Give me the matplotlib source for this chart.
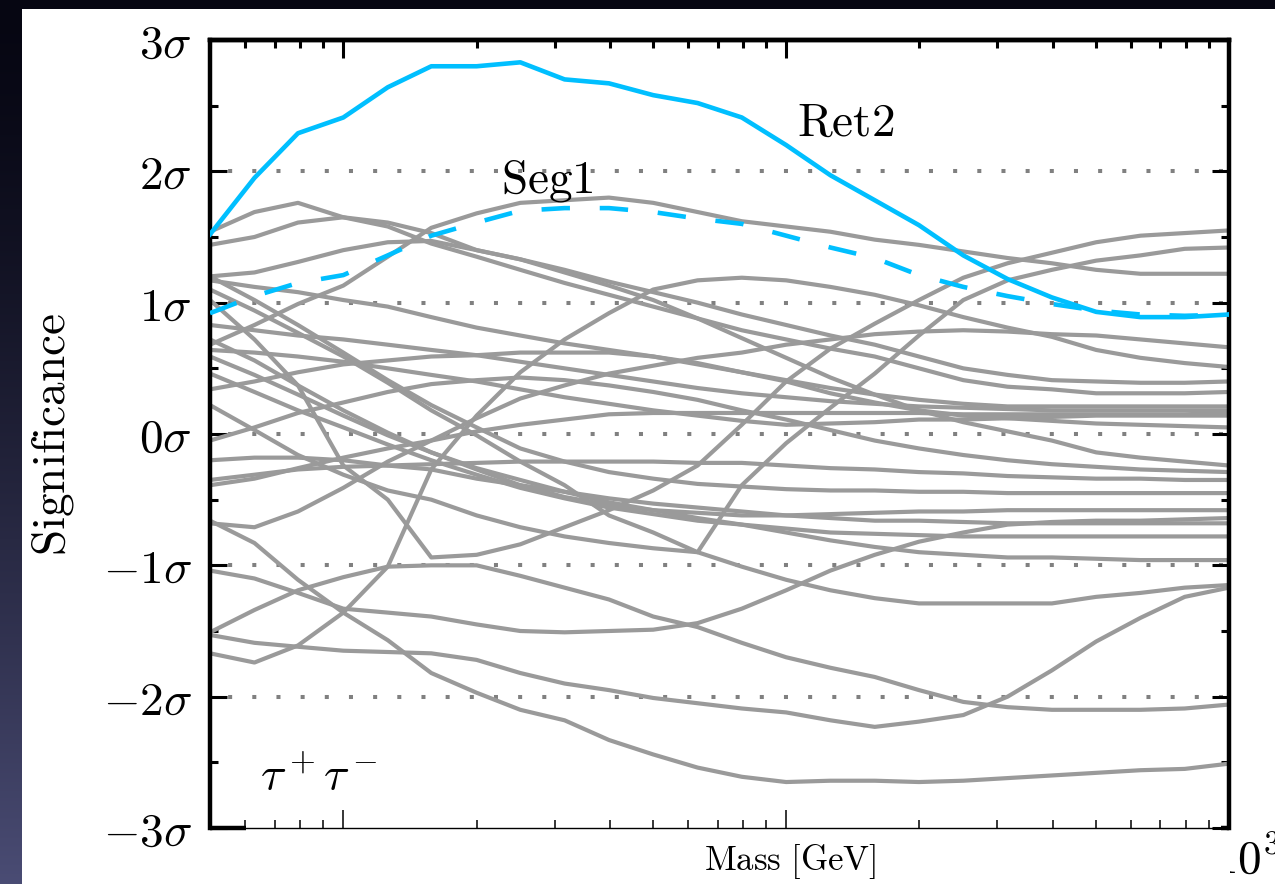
import numpy as np
import matplotlib.pyplot as plt
from matplotlib.patches import Rectangle
from matplotlib.ticker import FixedLocator, LogLocator, MultipleLocator, NullFormatter, FixedFormatter
from matplotlib.transforms import Bbox, TransformedBbox

plt.rcParams['mathtext.fontset'] = 'cm'
plt.rcParams['font.family'] = ['DejaVu Serif']

# mass grid (GeV), 0.1 decade steps
mass = [5.0, 6.3, 7.9, 10.0, 12.6, 15.8, 20.0, 25.1, 31.6, 39.8, 50.1, 63.1,
        79.4, 100.0, 125.9, 158.5, 199.5, 251.2, 316.2, 398.1, 501.2, 631.0, 794.3, 1000.0]

# highlighted dwarfs
ret2 = [1.52, 1.95, 2.29, 2.41, 2.64, 2.80, 2.80, 2.83, 2.70, 2.67, 2.58, 2.52,
        2.41, 2.20, 1.97, 1.78, 1.59, 1.36, 1.18, 1.04, 0.93, 0.89, 0.89, 0.91]
seg1 = [0.92, 1.05, 1.15, 1.21, 1.36, 1.51, 1.61, 1.70, 1.72, 1.72, 1.69, 1.64,
        1.60, 1.51, 1.42, 1.34, 1.21, 1.12, 1.05, 0.99, 0.94, 0.91, 0.90, 0.91]

# remaining dwarfs (grey)
g01 = [1.54, 1.69, 1.76, 1.65, 1.58, 1.45, 1.35, 1.25, 1.15, 1.06, 0.97, 0.88,
       0.79, 0.72, 0.65, 0.59, 0.50, 0.41, 0.36, 0.34, 0.31, 0.31, 0.31, 0.32]
g02 = [1.44, 1.50, 1.61, 1.65, 1.61, 1.53, 1.40, 1.33, 1.25, 1.16, 1.08, 1.00,
       0.91, 0.83, 0.75, 0.68, 0.59, 0.50, 0.45, 0.41, 0.40, 0.39, 0.39, 0.40]
g03 = [1.20, 1.23, 1.31, 1.40, 1.46, 1.47, 1.40, 1.33, 1.23, 1.13, 1.02, 0.88,
       0.73, 0.58, 0.43, 0.30, 0.18, 0.09, 0.02, -0.05, -0.14, -0.18, -0.21, -0.24]
g04 = [0.68, 0.83, 0.99, 1.13, 1.35, 1.57, 1.68, 1.76, 1.78, 1.80, 1.76, 1.69,
       1.62, 1.58, 1.54, 1.48, 1.44, 1.39, 1.34, 1.30, 1.25, 1.22, 1.22, 1.22]
g05 = [-1.67, -1.74, -1.61, -1.36, -1.01, -0.27, 0.14, 0.47, 0.72, 0.92, 1.10, 1.17,
       1.19, 1.17, 1.12, 1.06, 0.98, 0.89, 0.81, 0.74, 0.64, 0.58, 0.54, 0.51]
g06 = [1.02, 0.72, 0.37, -0.24, -0.50, -0.94, -0.92, -0.84, -0.71, -0.58, -0.43, -0.24,
       0.07, 0.40, 0.65, 0.84, 1.02, 1.19, 1.30, 1.38, 1.46, 1.51, 1.53, 1.55]
g07 = [1.10, 0.94, 0.77, 0.59, 0.39, 0.18, -0.01, -0.21, -0.39, -0.62, -0.75, -0.90,
       -0.39, -0.07, 0.20, 0.46, 0.75, 1.02, 1.17, 1.25, 1.32, 1.36, 1.41, 1.42]
g08 = [0.22, 0.03, -0.16, -0.31, -0.43, -0.50, -0.62, -0.71, -0.78, -0.83, -0.87, -0.90,
       -1.01, -1.11, -1.19, -1.25, -1.29, -1.29, -1.29, -1.29, -1.24, -1.21, -1.17, -1.15]
g09 = [-1.04, -1.10, -1.21, -1.33, -1.36, -1.39, -1.45, -1.50, -1.51, -1.50, -1.49, -1.44,
       -1.33, -1.19, -1.04, -0.92, -0.82, -0.75, -0.69, -0.67, -0.66, -0.66, -0.65, -0.64]
g10 = [-1.51, -1.34, -1.19, -1.09, -1.01, -1.00, -1.00, -1.08, -1.17, -1.26, -1.39, -1.47,
       -1.59, -1.70, -1.78, -1.85, -1.95, -2.04, -2.08, -2.10, -2.10, -2.10, -2.09, -2.06]
g11 = [-1.53, -1.59, -1.62, -1.65, -1.66, -1.67, -1.72, -1.82, -1.90, -1.95, -2.01, -2.05,
       -2.09, -2.12, -2.18, -2.23, -2.19, -2.14, -2.00, -1.80, -1.58, -1.40, -1.24, -1.17]
g12 = [-0.66, -0.83, -1.11, -1.36, -1.57, -1.82, -1.97, -2.10, -2.18, -2.33, -2.44, -2.54,
       -2.61, -2.65, -2.64, -2.64, -2.65, -2.64, -2.62, -2.60, -2.58, -2.56, -2.55, -2.51]
g13 = [-0.68, -0.71, -0.59, -0.41, -0.21, -0.05, 0.12, 0.27, 0.37, 0.46, 0.52, 0.58,
       0.62, 0.68, 0.72, 0.76, 0.78, 0.79, 0.78, 0.76, 0.75, 0.72, 0.69, 0.66]
g14 = [1.17, 1.12, 1.08, 1.02, 0.97, 0.89, 0.81, 0.75, 0.69, 0.64, 0.59, 0.53,
       0.47, 0.41, 0.35, 0.30, 0.26, 0.23, 0.21, 0.21, 0.21, 0.21, 0.21, 0.21]
g15 = [0.83, 0.79, 0.75, 0.72, 0.68, 0.64, 0.60, 0.55, 0.50, 0.45, 0.40, 0.35,
       0.31, 0.28, 0.25, 0.23, 0.21, 0.20, 0.19, 0.18, 0.18, 0.18, 0.18, 0.18]
g16 = [0.64, 0.62, 0.59, 0.55, 0.50, 0.45, 0.40, 0.34, 0.28, 0.23, 0.18, 0.14,
       0.10, 0.07, 0.08, 0.09, 0.11, 0.11, 0.12, 0.13, 0.14, 0.14, 0.14, 0.14]
g17 = [0.59, 0.45, 0.30, 0.14, -0.01, -0.14, -0.26, -0.35, -0.44, -0.52, -0.58, -0.64,
       -0.69, -0.75, -0.81, -0.86, -0.90, -0.92, -0.94, -0.94, -0.95, -0.96, -0.96, -0.96]
g18 = [0.46, 0.32, 0.18, 0.05, -0.08, -0.20, -0.31, -0.41, -0.49, -0.56, -0.61, -0.66,
       -0.69, -0.72, -0.75, -0.76, -0.77, -0.78, -0.78, -0.78, -0.78, -0.78, -0.78, -0.78]
g19 = [0.34, 0.40, 0.47, 0.53, 0.56, 0.59, 0.60, 0.62, 0.62, 0.62, 0.59, 0.54,
       0.47, 0.40, 0.31, 0.24, 0.18, 0.14, 0.12, 0.10, 0.08, 0.07, 0.06, 0.05]
g20 = [-0.05, 0.05, 0.16, 0.24, 0.32, 0.38, 0.41, 0.43, 0.41, 0.37, 0.32, 0.26,
       0.18, 0.11, 0.03, -0.05, -0.11, -0.16, -0.20, -0.23, -0.25, -0.27, -0.28, -0.29]
g21 = [-0.35, -0.31, -0.27, -0.25, -0.24, -0.23, -0.22, -0.21, -0.21, -0.21, -0.21, -0.22,
       -0.22, -0.24, -0.26, -0.27, -0.29, -0.30, -0.32, -0.33, -0.34, -0.34, -0.35, -0.35]
g22 = [-0.39, -0.34, -0.26, -0.18, -0.11, -0.05, 0.02, 0.07, 0.11, 0.15, 0.16, 0.16,
       0.16, 0.16, 0.16, 0.16, 0.16, 0.15, 0.15, 0.15, 0.15, 0.15, 0.15, 0.16]
g23 = [1.20, 1.02, 0.83, 0.62, 0.41, 0.22, 0.05, -0.11, -0.21, -0.29, -0.34, -0.38,
       -0.40, -0.42, -0.43, -0.43, -0.44, -0.44, -0.45, -0.45, -0.45, -0.45, -0.45, -0.45]
g24 = [0.72, 0.56, 0.37, 0.18, 0.01, -0.14, -0.27, -0.39, -0.48, -0.54, -0.58, -0.60,
       -0.62, -0.62, -0.61, -0.60, -0.59, -0.59, -0.58, -0.58, -0.58, -0.58, -0.58, -0.58]
g25 = [-0.20, -0.18, -0.18, -0.20, -0.24, -0.27, -0.34, -0.39, -0.44, -0.49, -0.53, -0.56,
       -0.59, -0.62, -0.64, -0.66, -0.66, -0.67, -0.68, -0.68, -0.68, -0.68, -0.68, -0.68]

grey_curves = [g01, g02, g03, g04, g05, g06, g07, g08, g09, g10, g11, g12, g13,
               g14, g15, g16, g17, g18, g19, g20, g21, g22, g23, g24, g25]

sigma_ticks = [-3, -2, -1, 0, 1, 2, 3]
sigma_labels = [r'$-3\sigma$', r'$-2\sigma$', r'$-1\sigma$', r'$0\sigma$',
                r'$1\sigma$', r'$2\sigma$', r'$3\sigma$']

W, H = 1275, 884
fig = plt.figure(figsize=(W / 100, H / 100), dpi=100)

# slide backdrop: dark gradient behind a white panel
bg = fig.add_axes([0, 0, 1, 1])
t = np.linspace(0, 1, H)[:, None, None] ** 1.4
top_c = np.array([6, 6, 18]) / 255
bot_c = np.array([74, 76, 116]) / 255
grad = top_c + (bot_c - top_c) * t
bg.imshow(np.repeat(grad, 8, axis=1), aspect='auto', extent=[0, 1, 0, 1])
bg.add_patch(Rectangle((22 / W, 0), 1, 1 - 9 / H, facecolor='white', edgecolor='none'))
bg.set_xlim(0, 1)
bg.set_ylim(0, 1)
bg.axis('off')

ax = fig.add_axes([210 / W, 1 - 828 / H, (1229 - 210) / W, (828 - 40) / H])
ax.set_xscale('log')
ax.set_xlim(5, 1000)
ax.set_ylim(-3, 3)

for lvl in [-2, -1, 0, 1, 2]:
    ax.axhline(lvl, color='#808080', lw=2.9, ls=(1.5, (1, 5)), zorder=1)

for curve in grey_curves:
    ax.plot(mass, curve, color='#9a9a9a', lw=3.0, zorder=2)

ax.plot(mass, seg1, color='#00bfff', lw=3.3, dashes=(6.2, 6.5), zorder=3)
ax.plot(mass, ret2, color='#00bfff', lw=3.3, zorder=4)

txt = dict(fontsize=34, color='black')
ax.text(136, 2.27, r'$\mathrm{Ret2}$', ha='center', va='baseline', **txt)
ax.text(28.9, 1.84, r'$\mathrm{Seg1}$', ha='center', va='baseline', **txt)
ax.text(6.5, -2.71, r'$\tau^+\tau^-$', ha='left', va='baseline', **txt)

# axes frame
for side in ['left', 'top', 'right']:
    ax.spines[side].set_linewidth(3.2)
ax.spines['bottom'].set_linewidth(1.0)
ax.plot([0, 0.035], [0, 0], transform=ax.transAxes, color='black', lw=3.2,
        clip_on=False, solid_capstyle='butt', zorder=5)
ax.plot([0.992, 1], [0, 0], transform=ax.transAxes, color='black', lw=3.2,
        clip_on=False, solid_capstyle='butt', zorder=5)

ax.yaxis.set_major_locator(FixedLocator(sigma_ticks))
ax.yaxis.set_major_formatter(FixedFormatter(sigma_labels))
ax.yaxis.set_minor_locator(MultipleLocator(0.5))
ax.tick_params(axis='y', which='major', direction='in', length=12, width=2.2,
               left=True, right=True, pad=13, labelsize=34)
ax.tick_params(axis='y', which='minor', direction='in', length=6, width=2.2,
               left=True, right=True)

ax.xaxis.set_major_locator(FixedLocator([10, 100, 1000]))
ax.xaxis.set_minor_locator(LogLocator(base=10, subs=np.arange(2, 10)))
ax.xaxis.set_major_formatter(NullFormatter())
ax.xaxis.set_minor_formatter(NullFormatter())
ax.tick_params(axis='x', which='major', direction='in', length=13, width=1.1,
               bottom=True, top=False)
ax.tick_params(axis='x', which='minor', direction='in', length=5.5, width=1.1,
               bottom=True, top=False)

top = ax.secondary_xaxis('top')
top.xaxis.set_major_locator(FixedLocator([10, 100]))
top.xaxis.set_minor_locator(LogLocator(base=10, subs=np.arange(2, 10)))
top.xaxis.set_major_formatter(NullFormatter())
top.xaxis.set_minor_formatter(NullFormatter())
top.tick_params(which='major', direction='in', length=13, width=2.2)
top.tick_params(which='minor', direction='in', length=6, width=2.2)
top.spines['top'].set_linewidth(3.2)

fig.text(52 / W, 1 - 434 / H, r'$\mathrm{Significance}$', rotation=90,
         ha='center', va='center', fontsize=34)
fig.text(790 / W, 1 - 870 / H, r'$\mathrm{Mass\ [GeV]}$', ha='center',
         va='baseline', fontsize=25)

decade = fig.text(1214 / W, 1 - 873 / H, r'$10^3$', ha='left', va='baseline', fontsize=34)
decade.set_clip_box(TransformedBbox(Bbox([[1230 / W, 0], [1, 1]]), fig.transFigure))
decade.set_clip_on(True)

fig.savefig('out.png', dpi=100)
